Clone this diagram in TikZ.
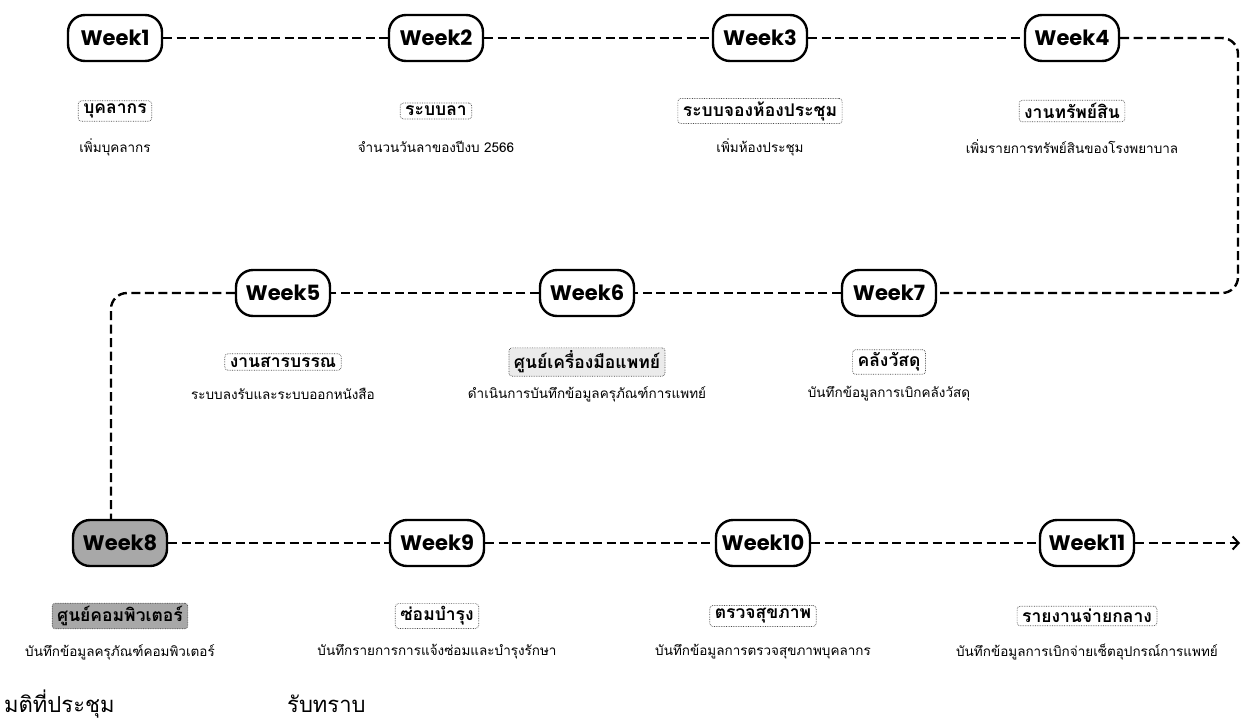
\documentclass[tikz,border=0pt]{standalone}
\usepackage{fontspec}
\usetikzlibrary{arrows.meta}
\newfontfamily\wkfont{Poppins}
\newfontfamily\thaifont[Script=Thai]{Loma}
\definecolor{hl}{HTML}{A8A8A8}
\tikzset{
  weeknode/.style={draw, line width=2.4pt, rounded corners=17pt, minimum width=94pt, minimum height=46pt, inner sep=0pt, fill=white, font=\wkfont\bfseries\fontsize{21}{24}\selectfont},
  titlebox/.style={draw=black!70, densely dotted, line width=0.7pt, rounded corners=3pt, inner xsep=5pt, inner ysep=3pt, font=\thaifont\bfseries\fontsize{17.5}{20}\selectfont},
  desctext/.style={inner sep=0pt, font=\thaifont\fontsize{13.5}{16}\selectfont},
  link/.style={line width=2.4pt, dash pattern=on 9pt off 4.5pt},
  bottomtext/.style={inner sep=0pt, anchor=west, font=\thaifont\fontsize{22}{26}\selectfont}
}
\begin{document}
\begin{tikzpicture}[x=1pt,y=-1pt]
\useasboundingbox (0,0) rectangle (1242,726);
% row 1
\node[weeknode] (w1) at (115,38) {Week1};
\node[weeknode] (w2) at (436,38) {Week2};
\node[weeknode] (w3) at (760,38) {Week3};
\node[weeknode] (w4) at (1072,38) {Week4};
\node[titlebox] (t1) at (115,111) {บุคลากร};
\node[titlebox] (t2) at (436,111) {ระบบลา};
\node[titlebox] (t3) at (760,111) {ระบบจองห้องประชุม};
\node[titlebox] (t4) at (1072,111) {งานทรัพย์สิน};
\node[desctext] (d1) at (115,147) {เพิ่มบุคลากร};
\node[desctext] (d2) at (436,147) {จำนวนวันลาของปีงบ 2566};
\node[desctext] (d3) at (760,147) {เพิ่มห้องประชุม};
\node[desctext] (d4) at (1072,147) {เพิ่มรายการทรัพย์สินของโรงพยาบาล};
% row 2
\node[weeknode] (w5) at (283,293) {Week5};
\node[weeknode] (w6) at (587,293) {Week6};
\node[weeknode] (w7) at (889,293) {Week7};
\node[titlebox] (t5) at (283,362) {งานสารบรรณ};
\node[titlebox, fill=black!8] (t6) at (587,362) {ศูนย์เครื่องมือแพทย์};
\node[titlebox] (t7) at (889,362) {คลังวัสดุ};
\node[desctext] (d5) at (283,394) {ระบบลงรับและระบบออกหนังสือ};
\node[desctext] (d6) at (587,394) {ดำเนินการบันทึกข้อมูลครุภัณฑ์การแพทย์};
\node[desctext] (d7) at (889,394) {บันทึกข้อมูลการเบิกคลังวัสดุ};
% row 3
\node[weeknode, fill=hl] (w8) at (120,543) {Week8};
\node[weeknode] (w9) at (437,543) {Week9};
\node[weeknode] (w10) at (763,543) {Week10};
\node[weeknode] (w11) at (1087,543) {Week11};
\node[titlebox, fill=hl] (t8) at (120,616) {ศูนย์คอมพิวเตอร์};
\node[titlebox] (t9) at (437,616) {ซ่อมบำรุง};
\node[titlebox] (t10) at (763,616) {ตรวจสุขภาพ};
\node[titlebox] (t11) at (1087,616) {รายงานจ่ายกลาง};
\node[desctext] (d8) at (120,652) {บันทึกข้อมูลครุภัณฑ์คอมพิวเตอร์};
\node[desctext] (d9) at (437,652) {บันทึกรายการการแจ้งซ่อมและบำรุงรักษา};
\node[desctext] (d10) at (763,652) {บันทึกข้อมูลการตรวจสุขภาพบุคลากร};
\node[desctext] (d11) at (1087,652) {บันทึกข้อมูลการเบิกจ่ายเซ็ตอุปกรณ์การแพทย์};
% bottom texts
\node[bottomtext] (m1) at (4,704) {มติที่ประชุม};
\node[bottomtext] (m2) at (287,704) {รับทราบ};
% bend points
\coordinate (r1) at (1238,38);
\coordinate (r2) at (1238,293);
\coordinate (l1) at (111,293);
\coordinate (l2) at (111,520);
\coordinate (e1) at (1240,543);
% connectors
\draw[link] (w1) -- (w2);
\draw[link] (w2) -- (w3);
\draw[link] (w3) -- (w4);
\draw[link, rounded corners=16pt] (w4.east) -- (r1) -- (r2) -- (w7.east);
\draw[link] (w7) -- (w6);
\draw[link] (w6) -- (w5);
\draw[link, rounded corners=16pt] (w5.west) -- (l1) -- (l2);
\draw[link] (w8) -- (w9);
\draw[link] (w9) -- (w10);
\draw[link] (w10) -- (w11);
\draw[link, -{Straight Barb[length=6pt,width=13pt,line width=2pt]}] (w11) -- (e1);
\end{tikzpicture}
\end{document}
